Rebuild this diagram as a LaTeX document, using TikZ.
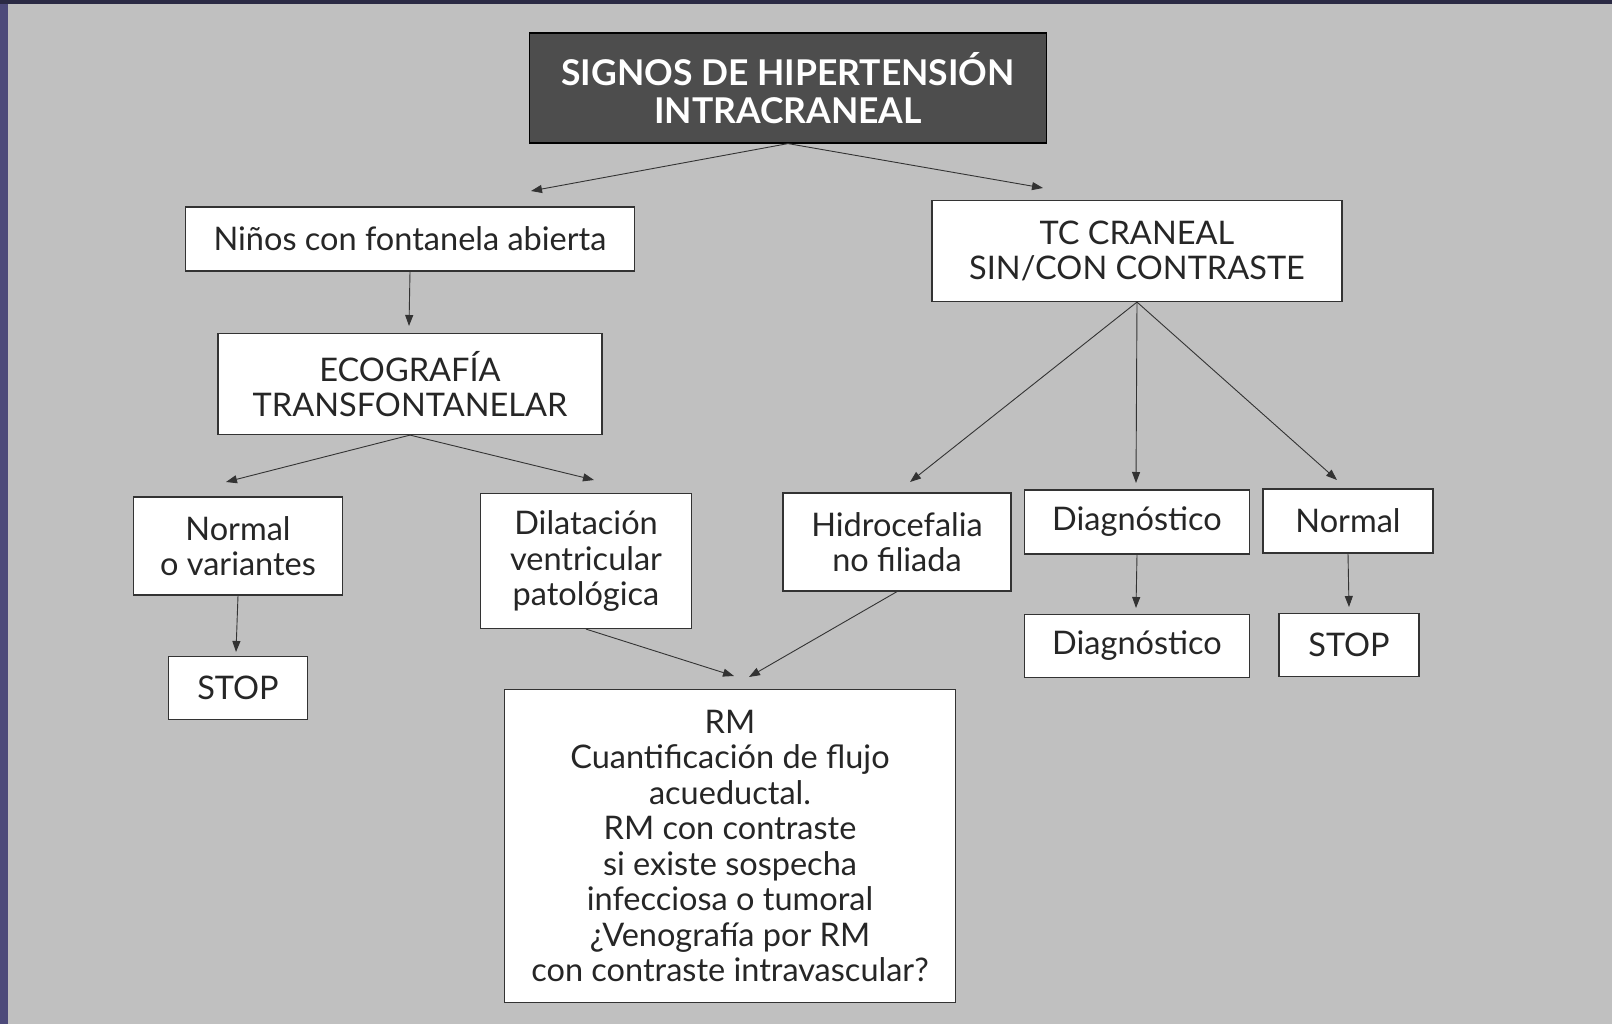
\documentclass[tikz,border=0pt]{standalone}
\usepackage{fontspec}
\setmainfont{Lato}
\usetikzlibrary{arrows.meta}
\definecolor{Paper}{HTML}{C0C0C0}
\definecolor{Frame}{HTML}{4D4A7A}
\definecolor{FrameTop}{HTML}{2B2A44}
\definecolor{Ink}{HTML}{333333}
\definecolor{Slate}{HTML}{4D4D4D}
\begin{document}
\begin{tikzpicture}[x=1pt,y=-1pt,
  box/.style={draw=Ink,fill=white,line width=1.2pt,inner sep=0pt,align=center,
    font=\fontsize{32.5}{35.5}\selectfont,text=black!85},
  head/.style={draw=black,fill=Slate,line width=1.2pt,inner sep=0pt,align=center,
    font=\fontsize{35.5}{38}\selectfont\bfseries,text=white},
  arr/.style={draw=Ink,line width=0.9pt,-{Triangle[length=11pt,width=8pt]}}]
\useasboundingbox (0,0) rectangle (1612,1024);
\fill[Paper] (0,0) rectangle (1612,1024);
\fill[Frame] (0,0) rectangle (8,1024);
\fill[FrameTop] (0,0) rectangle (1612,4);
% boxes
\node[head,minimum width=517,minimum height=110] (title) at (788,88) {SIGNOS DE HIPERTENSIÓN\\INTRACRANEAL};
\node[box,minimum width=449,minimum height=64] (ninos) at (410,239) {Niños con fontanela abierta};
\node[box,minimum width=410,minimum height=101] (tc) at (1137,251) {TC CRANEAL\\SIN/CON CONTRASTE};
\node[box,minimum width=384,minimum height=101] (eco) at (410,384) {ECOGRAFÍA\\TRANSFONTANELAR};
\node[box,minimum width=209,minimum height=98] (normal) at (238,546) {Normal\\o variantes};
\node[box,minimum width=139,minimum height=63] (stopl) at (238,688) {STOP};
\node[box,minimum width=211,minimum height=135] (dilat) at (586,561) {Dilatación\\ventricular\\patológica};
\node[box,minimum width=228,minimum height=98] (hidro) at (897,542) {Hidrocefalia\\no filiada};
\node[box,minimum width=225,minimum height=64] (diaga) at (1137,522) {Diagnóstico};
\node[box,minimum width=170,minimum height=64] (normr) at (1348,521) {Normal};
\node[box,minimum width=225,minimum height=63] (diagb) at (1137,646) {Diagnóstico};
\node[box,minimum width=140,minimum height=63] (stopr) at (1349,645) {STOP};
\node[box,minimum width=451,minimum height=313] (rm) at (730,846) {RM\\Cuantificación de flujo\\acueductal.\\RM con contraste\\si existe sospecha\\infecciosa o tumoral\\¿Venografía por RM\\con contraste intravascular?};
% free arrow ends
\coordinate (t-l) at (531,191);
\coordinate (t-r) at (1043,188);
\coordinate (n-e) at (409,326);
\coordinate (e-l) at (226,482);
\coordinate (e-r) at (594,480);
\coordinate (o-s) at (236,652);
\coordinate (d-m) at (734,676);
\coordinate (h-m) at (749,677);
\coordinate (c-l) at (910,482);
\coordinate (c-m) at (1136,483);
\coordinate (c-r) at (1337,480);
\coordinate (g-s) at (1136,608);
\coordinate (r-s) at (1349,607);
% connectors
\draw[arr] (title.south) -- (t-l);
\draw[arr] (title.south) -- (t-r);
\draw[arr] (ninos.south) -- (n-e);
\draw[arr] (eco.south) -- (e-l);
\draw[arr] (eco.south) -- (e-r);
\draw[arr] (normal.south) -- (o-s);
\draw[arr] (dilat.south) -- (d-m);
\draw[arr] (hidro.south) -- (h-m);
\draw[arr] (tc.south) -- (c-l);
\draw[arr] (tc.south) -- (c-m);
\draw[arr] (tc.south) -- (c-r);
\draw[arr] (diaga.south) -- (g-s);
\draw[arr] (normr.south) -- (r-s);
\end{tikzpicture}
\end{document}
